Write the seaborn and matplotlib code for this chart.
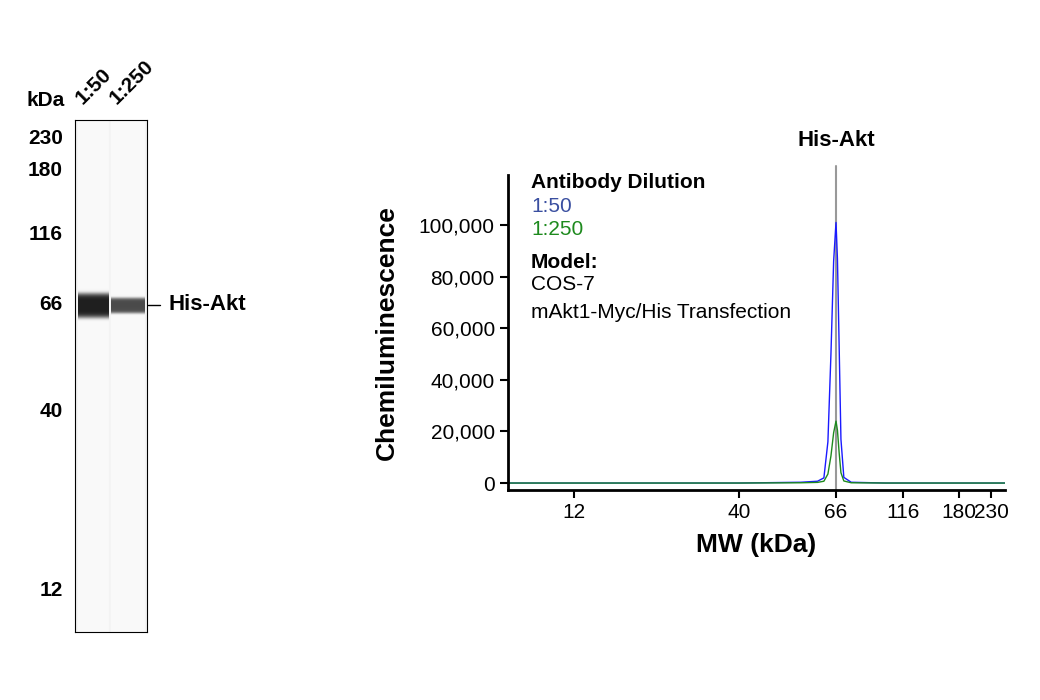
import numpy as np
import matplotlib
matplotlib.use("Agg")
import matplotlib.pyplot as plt
import seaborn as sns

sns.set_style("white")
plt.rcParams['font.family'] = ['Liberation Sans Narrow', 'Liberation Sans', 'DejaVu Sans']
plt.rcParams['text.color'] = 'black'
plt.rcParams['axes.labelcolor'] = 'black'
plt.rcParams['xtick.color'] = 'black'
plt.rcParams['ytick.color'] = 'black'
plt.rcParams['axes.edgecolor'] = 'black'

# ---- data ----
mw_ticks = [12, 40, 66, 116, 180, 230]
blot_ticks = [230, 180, 116, 66, 40, 12]
lanes = ["1:50", "1:250"]
lane_intensity = [1.0, 0.8]
lane_band_height = [11, 7]
band_mw = 66

mw_blue = [7.4, 20, 40, 55, 60, 62, 63.3, 64.3, 65.2, 66, 66.8, 67.8, 68.8, 70.5, 75, 100, 150, 256]
sig_blue = [0, 0, 0, 300, 700, 2000, 16000, 50000, 86000, 101000, 87000, 52000, 17000, 2200, 300, 0, 0, 0]
mw_green = [7.4, 20, 40, 55, 60, 62, 63.3, 64.3, 65.2, 66, 66.8, 67.8, 68.8, 70.5, 75, 100, 150, 256]
sig_green = [0, 0, 0, 100, 250, 700, 3500, 10500, 19500, 24000, 20500, 11500, 4000, 800, 100, 0, 0, 0]

anch_mw = np.log([7.4] + mw_ticks + [256])
anch_px = np.array([508, 574, 739, 836, 903, 959, 991, 1005], float)
def fwd(x):
    x = np.clip(np.asarray(x, float), 1e-3, None)
    return np.interp(np.log(x), anch_mw, anch_px)
def inv(p):
    return np.exp(np.interp(np.asarray(p, float), anch_px, anch_mw))

blot_px = {230: 138, 180: 170, 116: 235, 66: 305, 40: 412, 12: 591}
bk = sorted(blot_px)
def blot_y(m):
    return np.interp(np.log(m), np.log(bk), [blot_px[k] for k in bk])

fig = plt.figure(figsize=(10.4, 7), dpi=100)

# ---- blot ----
bx = fig.add_axes([75/1040, (700-632)/700, 72/1040, 512/700])
H, W = 512, 72
img = np.full((H, W), 0.955)
yy = np.arange(H)[:, None] + 120
xx = np.arange(W)[None, :] + 75
lane_x = [(78, 108), (111, 144)]
for (x0, x1), inten, bh in zip(lane_x, lane_intensity, lane_band_height):
    lane = ((xx >= x0) & (xx <= x1)).astype(float)
    img = img + 0.02 * lane
    cy = blot_y(band_mw)
    prof = np.exp(-0.5 * (np.abs(yy - cy) / bh) ** 6)
    img = img - inten * 0.85 * prof * lane
bx.imshow(img, cmap="gray", vmin=0, vmax=1, extent=[75, 147, 632, 120], aspect="auto")
bx.set_xlim(75, 147); bx.set_ylim(632, 120)
bx.set_xticks([]); bx.set_yticks([])
for s in bx.spines.values():
    s.set_visible(True); s.set_color("black"); s.set_linewidth(0.8)
for m in blot_ticks:
    fig.text(63/1040, 1 - blot_y(m)/700, str(m), ha="right", va="center", fontsize=15, fontweight="bold")
fig.text(27/1040, 1 - 100/700, "kDa", ha="left", va="center", fontsize=15, fontweight="bold")
for (x0, x1), lab in zip(lane_x, lanes):
    fig.text(((x0+x1)/2 - 8)/1040, 1 - 108/700, lab, rotation=45, ha="left", va="bottom",
             fontsize=15, fontweight="bold", rotation_mode="anchor")
yb = 1 - blot_y(band_mw)/700
fig.add_artist(plt.Line2D([148/1040, 160/1040], [yb, yb], color="black", lw=1))
fig.text(168/1040, yb, "His-Akt", ha="left", va="center", fontsize=16, fontweight="bold")

# ---- chart ----
ax = fig.add_axes([508/1040, (700-490)/700, 497/1040, 315/700])
ax.set_xscale("function", functions=(fwd, inv))
sns.lineplot(x=mw_blue, y=sig_blue, ax=ax, color="#1a1aff", lw=1, sort=False)
sns.lineplot(x=mw_green, y=sig_green, ax=ax, color="#1e8a1e", lw=1, sort=False)
ax.set_xlim(7.4, 256)
ax.set_ylim(-2700, 119400)
ax.axvline(band_mw, ymin=0, ymax=1.03, color="#999999", lw=1.5, clip_on=False, zorder=0)
ax.set_xticks(mw_ticks); ax.set_xticklabels([str(t) for t in mw_ticks])
ax.set_yticks([0, 20000, 40000, 60000, 80000, 100000])
ax.set_yticklabels(["0", "20,000", "40,000", "60,000", "80,000", "100,000"])
ax.tick_params(axis="both", labelsize=15, length=6, width=1.5, direction="out", bottom=True, left=True)
ax.xaxis.set_minor_locator(matplotlib.ticker.NullLocator())
sns.despine(ax=ax)
for s in ["left", "bottom"]:
    ax.spines[s].set_linewidth(2)
ax.set_xlabel("MW (kDa)", fontsize=19, fontweight="bold", labelpad=8)
ax.set_ylabel("Chemiluminescence", fontsize=19, fontweight="bold", labelpad=14)
fig.text(836/1040, 1 - 141/700, "His-Akt", ha="center", va="center", fontsize=16, fontweight="bold")
tx = 531/1040
fig.text(tx, 1-183/700, "Antibody Dilution", fontsize=15, fontweight="bold", va="center")
fig.text(tx, 1-207/700, "1:50", fontsize=15, color="#3a4fa0", va="center")
fig.text(tx, 1-230/700, "1:250", fontsize=15, color="#1e8a1e", va="center")
fig.text(tx, 1-262/700, "Model:", fontsize=15, fontweight="bold", va="center")
fig.text(tx, 1-285/700, "COS-7", fontsize=15, va="center")
fig.text(tx, 1-312/700, "mAkt1-Myc/His Transfection", fontsize=15, va="center")

fig.savefig("out.png", dpi=100)
